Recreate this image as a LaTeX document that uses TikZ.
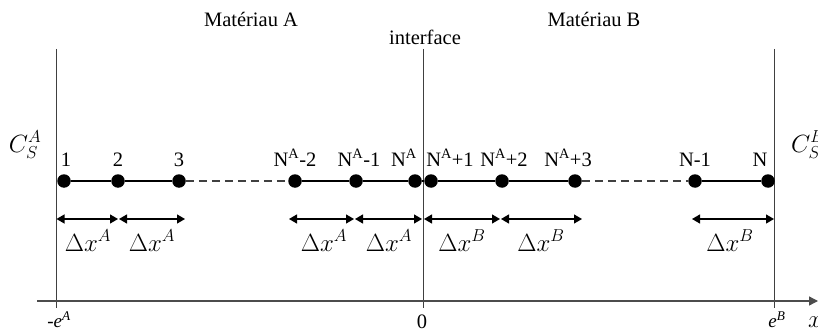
\documentclass[tikz,border=0pt]{standalone}
\usepackage{fontspec}
\setmainfont{Liberation Serif}
\usetikzlibrary{arrows.meta}
\begin{document}
\begin{tikzpicture}[x=1pt,y=-1pt,
  dot/.style={circle,fill=black,inner sep=0pt,minimum size=13.5pt},
  lbl/.style={font=\fontsize{20.5}{24}\selectfont,inner sep=0pt,anchor=base},
  mlbl/.style={font=\fontsize{24}{28}\selectfont,inner sep=0pt,anchor=base},
  small/.style={font=\fontsize{19}{22}\selectfont,inner sep=0pt,anchor=base},
  wall/.style={draw=black!75,line width=0.9pt},
  solidlink/.style={draw=black,line width=1.9pt},
  dashlink/.style={draw=black!75,line width=1.9pt,dash pattern=on 8pt off 5pt},
  dim/.style={{Triangle[length=8pt,width=9pt]}-{Triangle[length=8pt,width=9pt]},line width=1.2pt},
  axisline/.style={draw=black!70,line width=1.3pt,-{Triangle[length=9pt,width=9pt]}}]
\useasboundingbox (0,0) rectangle (818,334);
% walls
\coordinate (wAt) at (56.5,49); \coordinate (wAb) at (56.5,308);
\coordinate (wIt) at (423,49);  \coordinate (wIb) at (423,308);
\coordinate (wBt) at (774.5,49); \coordinate (wBb) at (774.5,308);
\draw[wall] (wAt) -- (wAb);
\draw[wall] (wIt) -- (wIb);
\draw[wall] (wBt) -- (wBb);
% axis
\coordinate (ax0) at (37,301); \coordinate (ax1) at (818,301);
\draw[axisline] (ax0) -- (ax1);
% titles
\node[lbl] (matA) at (251,27) {Matériau A};
\node[lbl] (iface) at (425,45) {interface};
\node[lbl] (matB) at (594,27) {Matériau B};
% boundary concentrations
\node[mlbl] (csA) at (25,152) {$C_S^A$};
\node[mlbl,anchor=base west] (csB) at (791,152) {$C_S^B$};
% dots
\node[dot] (n1) at (64,181) {};
\node[dot] (n2) at (118,181) {};
\node[dot] (n3) at (179,181) {};
\node[dot] (nA2) at (295,181) {};
\node[dot] (nA1) at (356,181) {};
\node[dot] (nA) at (415,181) {};
\node[dot] (nB1) at (431,181) {};
\node[dot] (nB2) at (502,181) {};
\node[dot] (nB3) at (575,181) {};
\node[dot] (nN1) at (695,181) {};
\node[dot] (nN) at (768,181) {};
% links
\draw[solidlink] (n1) -- (n2);
\draw[solidlink] (n2) -- (n3);
\draw[dashlink] (n3) -- (nA2);
\draw[solidlink] (nA2) -- (nA1);
\draw[solidlink] (nA1) -- (nA);
\draw[solidlink] (nA) -- (nB1);
\draw[solidlink] (nB1) -- (nB2);
\draw[solidlink] (nB2) -- (nB3);
\draw[dashlink] (nB3) -- (nN1);
\draw[solidlink] (nN1) -- (nN);
% dot labels
\node[lbl] (l1) at (66,166) {1};
\node[lbl] (l2) at (118,166) {2};
\node[lbl] (l3) at (179,166) {3};
\node[lbl] (lA2) at (295,166) {N\textsuperscript{A}-2};
\node[lbl] (lA1) at (359,166) {N\textsuperscript{A}-1};
\node[lbl] (lA) at (404,166) {N\textsuperscript{A}};
\node[lbl] (lB1) at (450,166) {N\textsuperscript{A}+1};
\node[lbl] (lB2) at (504,166) {N\textsuperscript{A}+2};
\node[lbl] (lB3) at (568,166) {N\textsuperscript{A}+3};
\node[lbl] (lN1) at (695,166) {N-1};
\node[lbl] (lN) at (760,166) {N};
% dimension arrows
\coordinate (d1a) at (56.5,219); \coordinate (d1b) at (118,219);
\coordinate (d2a) at (119,219);  \coordinate (d2b) at (185,219);
\coordinate (d3a) at (289,219);  \coordinate (d3b) at (354,219);
\coordinate (d4a) at (355,219);  \coordinate (d4b) at (422,219);
\coordinate (d5a) at (424,219);  \coordinate (d5b) at (500,219);
\coordinate (d6a) at (501,219);  \coordinate (d6b) at (582,219);
\coordinate (d7a) at (692,219);  \coordinate (d7b) at (774,219);
\draw[dim] (d1a) -- (d1b);
\draw[dim] (d2a) -- (d2b);
\draw[dim] (d3a) -- (d3b);
\draw[dim] (d4a) -- (d4b);
\draw[dim] (d5a) -- (d5b);
\draw[dim] (d6a) -- (d6b);
\draw[dim] (d7a) -- (d7b);
\node[mlbl] (dx1) at (88,251) {$\Delta x^A$};
\node[mlbl] (dx2) at (152,251) {$\Delta x^A$};
\node[mlbl] (dx3) at (324,251) {$\Delta x^A$};
\node[mlbl] (dx4) at (389,251) {$\Delta x^A$};
\node[mlbl] (dx5) at (462,251) {$\Delta x^B$};
\node[mlbl] (dx6) at (541,251) {$\Delta x^B$};
\node[mlbl] (dx7) at (730,251) {$\Delta x^B$};
% axis labels
\node[small] (eA) at (59,327) {-\textit{e}\textsuperscript{\textit{A}}};
\node[lbl] (zero) at (422,328) {0};
\node[small] (eB) at (777,327) {\textit{e}\textsuperscript{\textit{B}}};
\node[mlbl,anchor=base west] (xlab) at (808,327) {$x$};
\end{tikzpicture}
\end{document}
